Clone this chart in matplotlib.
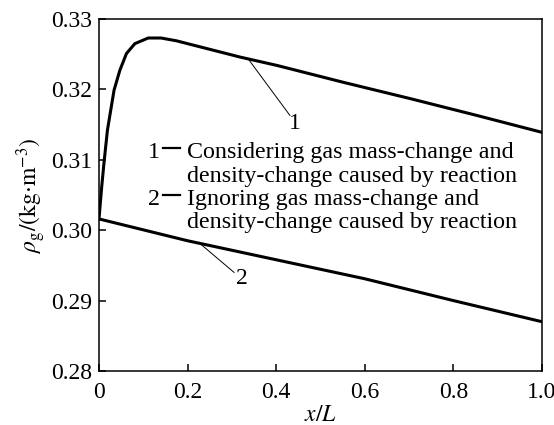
import matplotlib
matplotlib.use("Agg")
import matplotlib.pyplot as plt
from matplotlib.lines import Line2D

# Data
x1 = [0.0, 0.006, 0.011, 0.019, 0.034, 0.047, 0.062, 0.081, 0.111, 0.14, 0.175, 0.318, 0.402, 0.552, 0.702, 0.853, 1.0]
y1 = [0.3016, 0.3061, 0.3094, 0.3142, 0.3199, 0.3227, 0.3251, 0.3265, 0.3273, 0.3273, 0.3269, 0.3246, 0.3234, 0.3210, 0.3187, 0.3163, 0.3139]
x2 = [0.0, 0.2, 0.4, 0.6, 0.8, 1.0]
y2 = [0.3016, 0.2985, 0.2958, 0.2931, 0.2900, 0.2870]

xticks = [0, 0.2, 0.4, 0.6, 0.8, 1.0]
xticklabels = ["0", "0.2", "0.4", "0.6", "0.8", "1.0"]
yticks = [0.28, 0.29, 0.30, 0.31, 0.32, 0.33]
yticklabels = ["0.28", "0.29", "0.30", "0.31", "0.32", "0.33"]

legend_nums = ["1", "2"]
legend_lines = [
    ["Considering gas mass-change and", "density-change caused by reaction"],
    ["Ignoring gas mass-change and", "density-change caused by reaction"],
]

plt.rcParams['font.family'] = ['Liberation Serif', 'DejaVu Serif']
plt.rcParams['mathtext.fontset'] = 'stix'

W, H = 554, 425
fig = plt.figure(figsize=(W / 100, H / 100), dpi=100)
ax = fig.add_axes([99 / W, (H - 371) / H, (542 - 99) / W, (371 - 19) / H])

ax.plot(x1, y1, color='black', lw=2.2, solid_joinstyle='round')
ax.plot(x2, y2, color='black', lw=2.2, solid_joinstyle='round')

ax.set_xlim(0, 1.0)
ax.set_ylim(0.28, 0.33)
ax.set_xticks(xticks)
ax.set_xticklabels(xticklabels)
ax.set_yticks(yticks)
ax.set_yticklabels(yticklabels)
ax.tick_params(direction='in', length=5, width=1.1, labelsize=17,
               top=False, right=False)
ax.tick_params(axis='x', pad=8)
ax.tick_params(axis='y', pad=5)
for s in ax.spines.values():
    s.set_linewidth(1.1)

ax.set_xlabel(r'$x/L$', fontsize=17, labelpad=1.5)
ax.set_ylabel(r'$\rho_{\rm g}/(\rm kg{\cdot}m^{-3})$', fontsize=17, labelpad=2)

# leader lines
ax.plot([0.336, 0.431], [0.3244, 0.3163], color='black', lw=0.7)
ax.text(0.442, 0.3152, "1", fontsize=17, ha='center', va='center')
ax.plot([0.228, 0.305], [0.2981, 0.2940], color='black', lw=0.7)
ax.text(0.322, 0.2932, "2", fontsize=17, ha='center', va='center')

# legend text
fs = 17.3
baselines = [158.3, 205.0]
for num, lines, by in zip(legend_nums, legend_lines, baselines):
    fig.text(148 / W, (H - by) / H, num, fontsize=fs, ha='left', va='baseline')
    fig.add_artist(Line2D([163 / W, 180 / W], [(H - by + 10) / H] * 2,
                          color='black', lw=1.6, transform=fig.transFigure))
    fig.text(187 / W, (H - by) / H, lines[0], fontsize=fs, ha='left', va='baseline')
    fig.text(187 / W, (H - by - 23.3) / H, lines[1], fontsize=fs, ha='left', va='baseline')

fig.savefig("out.png", dpi=100)
